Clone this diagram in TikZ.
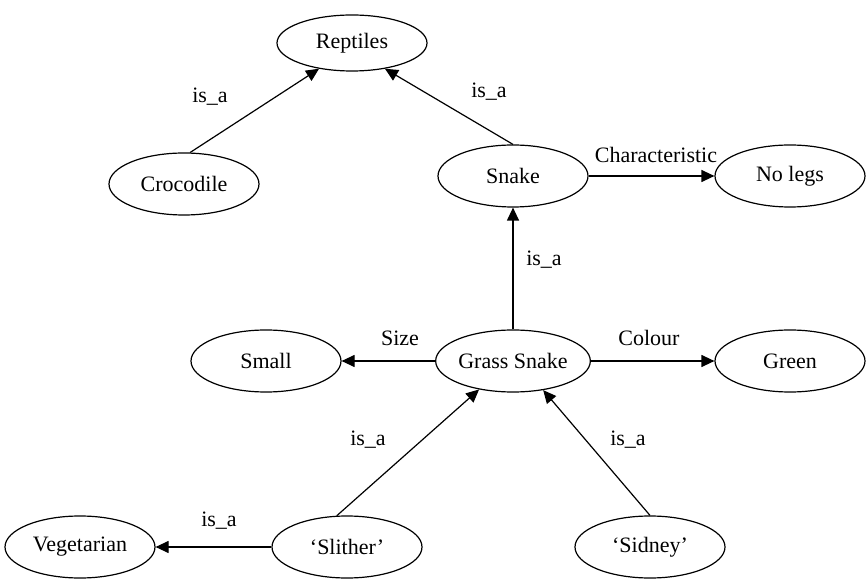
\documentclass[tikz,border=0pt]{standalone}
\usepackage{fontspec}
\setmainfont{Liberation Serif}
\usepackage{tikz}
\usetikzlibrary{shapes.geometric,arrows.meta}

\begin{document}
\begin{tikzpicture}[x=0.5pt,y=-0.5pt,line width=0.6pt,
  concept/.style={draw,ellipse,minimum width=75pt,minimum height=31pt,inner sep=0pt,font=\fontsize{11}{13}\selectfont},
  lbl/.style={font=\fontsize{11}{13}\selectfont,inner sep=1pt},
  link/.style={-{Triangle[length=6.5pt,width=6pt]}}]
\useasboundingbox (0,0) rectangle (867,582);

\node[concept,minimum height=28pt] (reptiles) at (352,43) {Reptiles};
\node[concept] (croc) at (184,184) {Crocodile};
\node[concept] (snake) at (513,176) {Snake};
\node[concept] (nolegs) at (790,176) {No legs};

\node[concept] (gs) at (513,361) {Grass Snake};
\node[concept] (small) at (266,361) {Small};
\node[concept] (green) at (790,361) {Green};

\node[concept] (slither) at (347,547) {‘Slither’};
\node[concept] (sidney) at (650,547) {‘Sidney’};
\node[concept] (veg) at (80,547) {Vegetarian};

\draw[link] (croc.79) -- (reptiles.218);
\node[lbl] (lcroc) at (210,97) {is\_a};

\draw[link] (snake.north) -- (reptiles.322);
\node[lbl] (lsnake) at (489,92) {is\_a};

\draw[link] (snake.east) -- (nolegs.west);
\node[lbl] (lchar) at (656,155) {Characteristic};

\draw[link] (gs.north) -- (snake.south);
\node[lbl] (lgs) at (544,260) {is\_a};

\draw[link] (gs.west) -- (small.east);
\node[lbl] (lsize) at (400,338) {Size};

\draw[link] (gs.east) -- (green.west);
\node[lbl] (lcolour) at (649,338) {Colour};

\draw[link] (slither.108) -- (gs.220);
\node[lbl] (lslither) at (368,440) {is\_a};

\draw[link] (sidney.north) -- (gs.316);
\node[lbl] (lsidney) at (628,440) {is\_a};

\draw[link] (slither.west) -- (veg.east);
\node[lbl] (lveg) at (219,521) {is\_a};

\end{tikzpicture}
\end{document}
